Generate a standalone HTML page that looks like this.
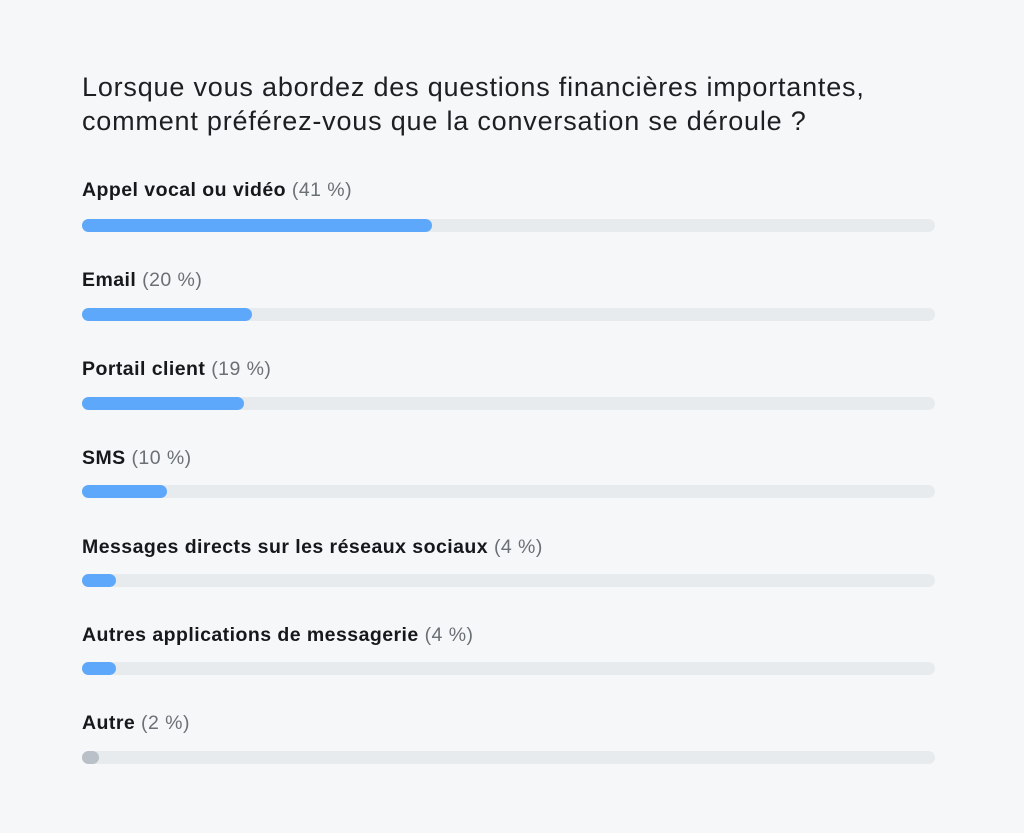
<!DOCTYPE html>
<html><head><meta charset="utf-8"><style>
body{margin:0;width:1024px;height:833px;background:#f6f7f9;font-family:"Liberation Sans",sans-serif;position:relative;overflow:hidden}
.t{position:absolute;left:82px;top:70px;font-size:27px;line-height:34px;color:#1d1f22;letter-spacing:0.8px}
.l{position:absolute;left:82px;font-size:19.5px;font-weight:bold;color:#16181b;line-height:22px;letter-spacing:0.45px}
.l span{font-weight:normal;color:#6b7077}
.tr{position:absolute;left:82px;width:853px;height:13px;border-radius:7px;background:#e8ebee}
.f{height:13px;border-radius:7px;background:#5ea8fb}
</style></head><body>
<div class="t">Lorsque vous abordez des questions financières importantes,<br>comment préférez-vous que la conversation se déroule ?</div>
<div class="l" style="top:179px">Appel vocal ou vidéo <span>(41 %)</span></div>
<div class="tr" style="top:219px"><div class="f" style="width:350px"></div></div>
<div class="l" style="top:269px">Email <span>(20 %)</span></div>
<div class="tr" style="top:308px"><div class="f" style="width:170px"></div></div>
<div class="l" style="top:358px">Portail client <span>(19 %)</span></div>
<div class="tr" style="top:397px"><div class="f" style="width:162px"></div></div>
<div class="l" style="top:447px">SMS <span>(10 %)</span></div>
<div class="tr" style="top:485px"><div class="f" style="width:85px"></div></div>
<div class="l" style="top:536px">Messages directs sur les réseaux sociaux <span>(4 %)</span></div>
<div class="tr" style="top:574px"><div class="f" style="width:34px"></div></div>
<div class="l" style="top:624px">Autres applications de messagerie <span>(4 %)</span></div>
<div class="tr" style="top:662px"><div class="f" style="width:34px"></div></div>
<div class="l" style="top:712px">Autre <span>(2 %)</span></div>
<div class="tr" style="top:751px"><div class="f" style="width:17px;background:#b9c0c8"></div></div>
</body></html>
